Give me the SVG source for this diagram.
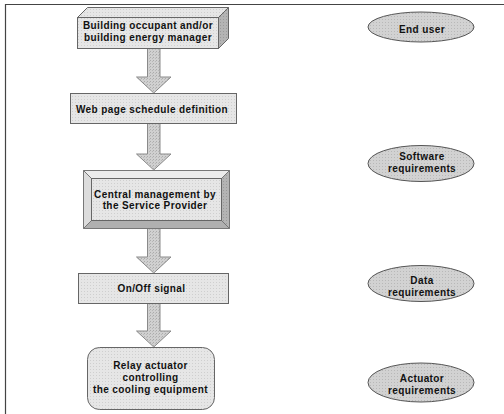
<svg xmlns="http://www.w3.org/2000/svg" width="504" height="414" viewBox="0 0 504 414">
  <defs>
    <!-- stippled grey fills -->
    <pattern id="dotLight" width="3" height="3" patternUnits="userSpaceOnUse">
      <rect width="3" height="3" fill="#e6e6e6"/>
      <rect x="0" y="0" width="1" height="1" fill="#cfcfcf"/>
    </pattern>
    <pattern id="dotMid" width="3" height="3" patternUnits="userSpaceOnUse">
      <rect width="3" height="3" fill="#d2d2d2"/>
      <rect x="1" y="1" width="1" height="1" fill="#b8b8b8"/>
    </pattern>
    <pattern id="dotDark" width="3" height="3" patternUnits="userSpaceOnUse">
      <rect width="3" height="3" fill="#b4b4b4"/>
      <rect x="1" y="1" width="1" height="1" fill="#9a9a9a"/>
    </pattern>
    <pattern id="dotArrow" width="3" height="3" patternUnits="userSpaceOnUse">
      <rect width="3" height="3" fill="#d0d0d0"/>
      <rect x="0" y="0" width="1" height="1" fill="#ababab"/>
      <rect x="2" y="1" width="1" height="1" fill="#b8b8b8"/>
    </pattern>
  </defs>
  <style>
    .lbl { font-family: "Liberation Sans", Arial, sans-serif; font-size: 10px; font-weight: bold; fill: #111; text-anchor: middle; letter-spacing: 0.4px; }
    .face { fill: url(#dotLight); stroke: #666; stroke-width: 1; }
    .oval { fill: url(#dotMid); stroke: #555; stroke-width: 1; }
    .arrow { fill: url(#dotArrow); stroke: #8a8a8a; stroke-width: 1; }
    .frame { stroke: #444; stroke-width: 1.2; fill: none; }
  </style>

  <rect width="504" height="414" fill="#fff"/>

  <!-- frame -->
  <path class="frame" d="M5.5,414 V4.5 H504"/>

  <!-- connectors -->
  <g id="connectors">
    <polygon class="arrow" points="147.5,48 160,48 160,77 171,77 153.75,93 136.5,77 147.5,77"/>
    <polygon class="arrow" points="147.5,123 160,123 160,154 171,154 153.75,170 136.5,154 147.5,154"/>
    <polygon class="arrow" points="147.5,228 160,228 160,257 171,257 153.75,273 136.5,257 147.5,257"/>
    <polygon class="arrow" points="147.5,303 160,303 160,331 171,331 153.75,347 136.5,331 147.5,331"/>
  </g>

  <!-- building occupant: 3D block -->
  <g id="occupant">
    <polygon points="77.5,17.5 87.5,7.5 228.5,7.5 218.5,17.5" fill="url(#dotLight)" stroke="#666"/>
    <polygon points="218.5,17.5 228.5,7.5 228.5,38.5 218.5,48.5" fill="url(#dotDark)" stroke="#666"/>
    <rect class="face" x="77.5" y="17.5" width="141" height="31"/>
    <text class="lbl" x="148" y="29">Building occupant and/or</text>
    <text class="lbl" x="148" y="40.5">building energy manager</text>
  </g>

  <!-- web page schedule -->
  <g id="webpage">
    <rect class="face" x="70.5" y="93.5" width="166" height="30"/>
    <text class="lbl" x="152" y="112.5">Web page schedule definition</text>
  </g>

  <!-- central management: bevelled panel -->
  <g id="central">
    <polygon points="83.5,170.5 229.5,170.5 221.5,178.5 91.5,178.5" fill="#ececec" stroke="#777"/>
    <polygon points="83.5,170.5 91.5,178.5 91.5,220.5 83.5,228.5" fill="#dcdcdc" stroke="#777"/>
    <polygon points="229.5,170.5 229.5,228.5 221.5,220.5 221.5,178.5" fill="url(#dotDark)" stroke="#777"/>
    <polygon points="83.5,228.5 229.5,228.5 221.5,220.5 91.5,220.5" fill="#b0b0b0" stroke="#777"/>
    <rect class="face" x="91.5" y="178.5" width="130" height="42"/>
    <text class="lbl" x="155" y="197.5">Central management by</text>
    <text class="lbl" x="155" y="208.5">the Service Provider</text>
  </g>

  <!-- on/off signal -->
  <g id="signal">
    <rect class="face" x="78.5" y="273.5" width="150" height="30"/>
    <text class="lbl" x="151.5" y="292">On/Off signal</text>
  </g>

  <!-- relay actuator -->
  <g id="relay">
    <rect class="face" x="87.5" y="347.5" width="127" height="62" rx="12" ry="12"/>
    <text class="lbl" x="150.5" y="369">Relay actuator</text>
    <text class="lbl" x="150.5" y="381">controlling</text>
    <text class="lbl" x="150.5" y="393">the cooling equipment</text>
  </g>

  <!-- requirement ovals -->
  <g id="enduser">
    <ellipse class="oval" cx="421" cy="27" rx="53" ry="15"/>
    <text class="lbl" x="422" y="33">End user</text>
  </g>
  <g id="software">
    <ellipse class="oval" cx="421" cy="163.5" rx="53" ry="18"/>
    <text class="lbl" x="422" y="160">Software</text>
    <text class="lbl" x="422" y="172">requirements</text>
  </g>
  <g id="data">
    <ellipse class="oval" cx="421" cy="283.5" rx="53" ry="18"/>
    <text class="lbl" x="422" y="284">Data</text>
    <text class="lbl" x="422" y="296">requirements</text>
  </g>
  <g id="actuator">
    <ellipse class="oval" cx="421" cy="382.5" rx="53" ry="19.5"/>
    <text class="lbl" x="422" y="382">Actuator</text>
    <text class="lbl" x="422" y="394">requirements</text>
  </g>
</svg>
